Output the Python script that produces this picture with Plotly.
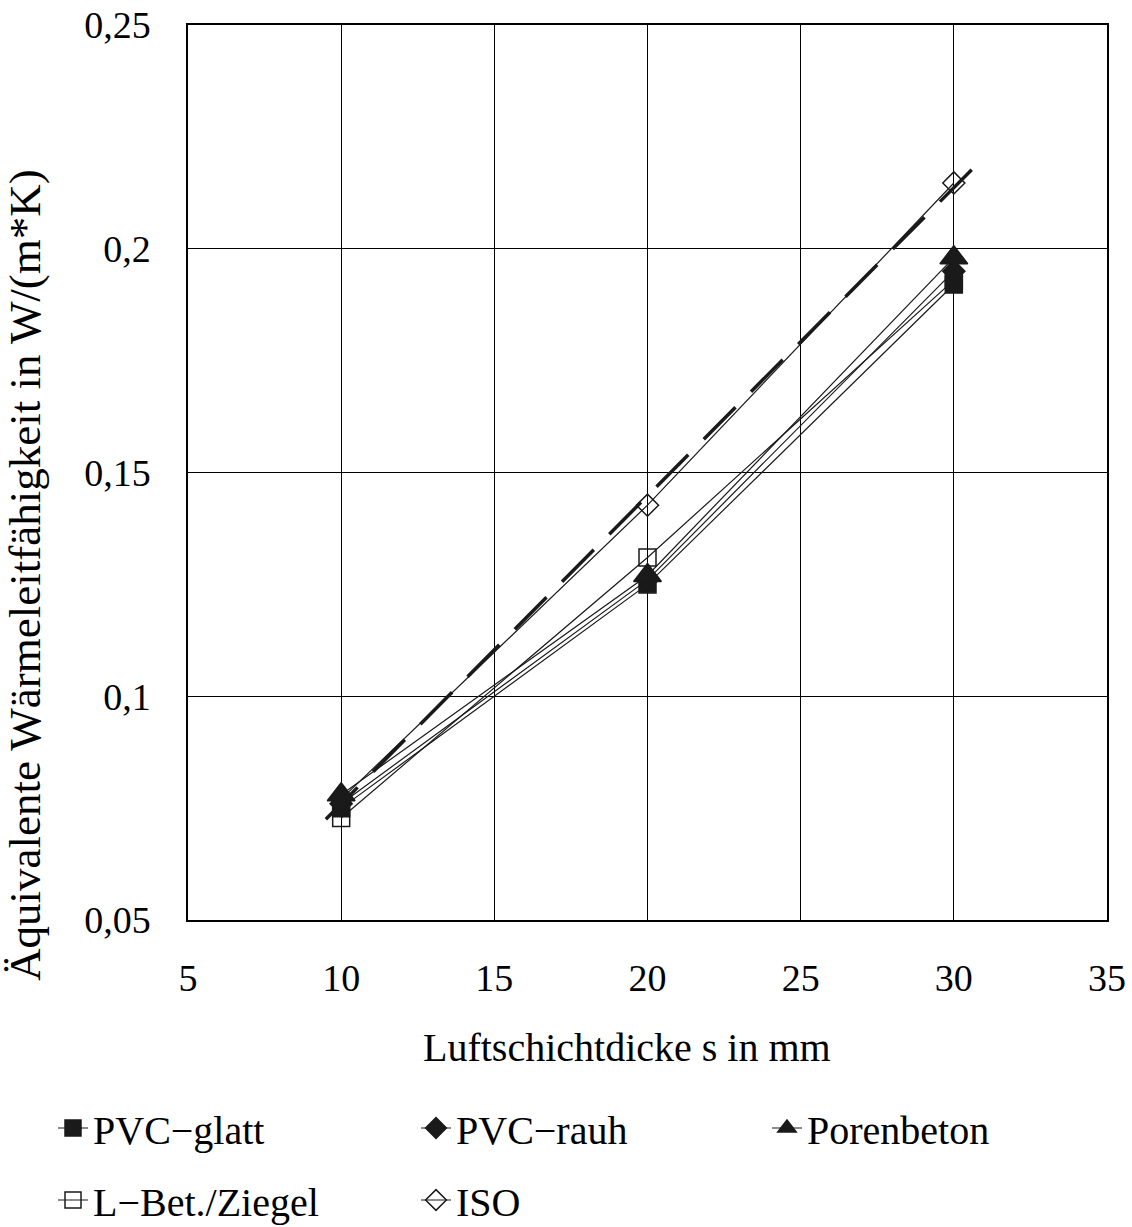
import numpy as np
import plotly.graph_objects as go

# data
thickness = [10, 20, 30]
pvc_glatt = [0.075, 0.125, 0.192]
pvc_rauh = [0.076, 0.126, 0.195]
porenbeton = [0.078, 0.127, 0.198]
lbet_ziegel = [0.0728, 0.131, 0.193]
iso = [0.077, 0.1427, 0.2147]
trend_x = [9.5, 30.8]

x_ticks = [5, 10, 15, 20, 25, 30, 35]
y_ticks = [0.05, 0.1, 0.15, 0.2, 0.25]

FONT = "Liberation Serif"
INK = "#1a1a1a"

fig = go.Figure()

series = [
    ("PVC−glatt", pvc_glatt, "square", INK, "legend"),
    ("PVC−rauh", pvc_rauh, "diamond", INK, "legend"),
    ("Porenbeton", porenbeton, "triangle-up", INK, "legend3"),
    ("L−Bet./Ziegel", lbet_ziegel, "square-open", INK, "legend2"),
    ("ISO", iso, "diamond-open", INK, "legend2"),
]

# linear trend of ISO values
coef = np.polyfit(thickness, iso, 1)
trend_y = list(np.polyval(coef, trend_x))
fig.add_trace(go.Scatter(
    x=trend_x, y=trend_y, mode="lines",
    line=dict(color=INK, width=3.5, dash="45px,22px"),
    showlegend=False, hoverinfo="skip"))

for name, vals, sym, col, lg in series:
    size = 24 if sym.startswith("triangle") else 17
    fig.add_trace(go.Scatter(
        x=thickness, y=vals, mode="lines+markers", name=name,
        line=dict(color=col, width=1.2),
        marker=dict(symbol=sym, size=size, color=col,
                    line=dict(color=col, width=1.5)),
        legend=lg))

L, R, T, B = 188, 25, 25, 307
W, H = 1132, 1227
pw = W - L - R
ph = H - T - B

def px(xp):
    return (xp - L) / pw

def py(yp):
    return (H - B - yp) / ph

leg_common = dict(orientation="h", xanchor="left", yanchor="middle",
                  entrywidth=318, entrywidthmode="pixels",
                  font=dict(family=FONT, size=40), bgcolor="rgba(0,0,0,0)")

fig.update_layout(
    width=W, height=H,
    margin=dict(l=L, r=R, t=T, b=B, autoexpand=False),
    paper_bgcolor="white", plot_bgcolor="white",
    separators=",.",
    font=dict(family=FONT, color="black", size=36),
    xaxis=dict(range=[5, 35], tickvals=x_ticks, ticktext=[str(v) for v in x_ticks],
               showgrid=True, gridcolor="black", gridwidth=1,
               showline=True, linecolor="black", linewidth=1.5, mirror=True,
               zeroline=False, ticks="", ticklabelstandoff=24,
               tickfont=dict(family=FONT, size=38)),
    yaxis=dict(range=[0.05, 0.25], tickvals=y_ticks,
               ticktext=["0,05", "0,1", "0,15", "0,2", "0,25"],
               showgrid=True, gridcolor="black", gridwidth=1,
               showline=True, linecolor="black", linewidth=1.5, mirror=True,
               zeroline=False, ticks="", ticklabelstandoff=28,
               tickfont=dict(family=FONT, size=38)),
    legend=dict(x=px(53), y=py(1128), **leg_common),
    legend3=dict(x=px(767), y=py(1128), **leg_common),
    legend2=dict(x=px(53), y=py(1200), **leg_common),
    annotations=[
        dict(text="Luftschichtdicke s in mm", xref="paper", yref="paper",
             x=px(627), y=py(1047), xanchor="center", yanchor="middle",
             showarrow=False, font=dict(family=FONT, size=40)),
        dict(text="Äquivalente Wärmeleitfähigkeit in W/(m*K)", xref="paper", yref="paper",
             x=px(25), y=py(575), xanchor="center", yanchor="middle", textangle=-90,
             showarrow=False, font=dict(family=FONT, size=45)),
    ],
)

fig.write_html("out.html")
